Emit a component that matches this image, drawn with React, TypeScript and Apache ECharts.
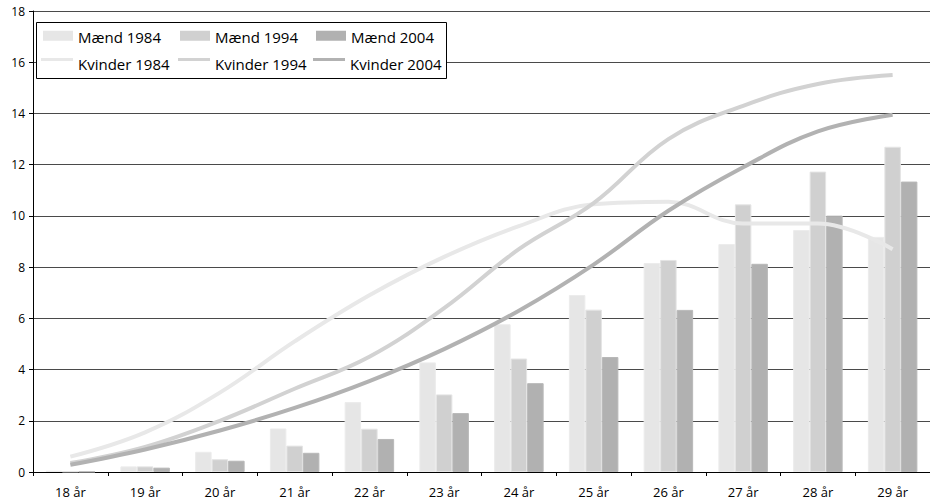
import React, { useEffect, useRef } from "react";
import * as echarts from "echarts";

const categories = ["18 år", "19 år", "20 år", "21 år", "22 år", "23 år", "24 år", "25 år", "26 år", "27 år", "28 år", "29 år"];
const yTicks = [0, 2, 4, 6, 8, 10, 12, 14, 16, 18];

const maend1984 = [0.05, 0.22, 0.79, 1.7, 2.73, 4.28, 5.77, 6.91, 8.16, 8.9, 9.45, 9.18];
const maend1994 = [0.02, 0.22, 0.5, 1.03, 1.69, 3.03, 4.43, 6.34, 8.28, 10.45, 11.73, 12.7];
const maend2004 = [0.01, 0.17, 0.44, 0.75, 1.29, 2.3, 3.47, 4.49, 6.33, 8.13, 10.01, 11.34];

const kvinder1984 = [0.6, 1.55, 3.1, 5.1, 6.9, 8.4, 9.6, 10.45, 10.55, 9.7, 9.7, 8.7];
const kvinder1994 = [0.35, 0.98, 2.0, 3.25, 4.5, 6.4, 8.7, 10.5, 13.0, 14.3, 15.15, 15.5];
const kvinder2004 = [0.28, 0.88, 1.62, 2.5, 3.55, 4.8, 6.3, 8.1, 10.2, 11.9, 13.3, 13.95];

const FONT = "Open Sans";

export default function App() {
  const ref = useRef<HTMLDivElement>(null);

  useEffect(() => {
    if (!ref.current) return;
    const chart = echarts.init(ref.current, undefined, { renderer: "svg" });

    const barSeries = (name: string, data: number[], color: string, border: string) => ({
      name,
      type: "bar",
      data,
      barWidth: 16.5,
      barGap: "0%",
      itemStyle: { color, borderColor: border, borderWidth: 1 },
      z: 2,
    });
    const lineSeries = (name: string, data: number[], color: string) => ({
      name,
      type: "line",
      data,
      smooth: 0.4,
      symbol: "none",
      lineStyle: { color, width: 4 },
      itemStyle: { color },
      z: 3,
    });

    const barLegend = (name: string, left: number) => ({
      show: true,
      data: [name],
      left,
      top: 28.2,
      padding: 0,
      icon: "path://M0,0H30V10H0ZM0,13H30",
      itemWidth: 30,
      itemHeight: 13,
      selectedMode: false,
      itemStyle: { borderWidth: 0 },
      textStyle: { fontFamily: FONT, fontSize: 15, color: "#000", lineHeight: 18 },
      z: 5,
    });
    const lineLegend = (name: string, left: number) => ({
      show: true,
      data: [name],
      left,
      top: 54.5,
      padding: 0,
      icon: "path://M0,0H32V3H0ZM0,11H32",
      itemWidth: 32,
      itemHeight: 11,
      selectedMode: false,
      itemStyle: { borderWidth: 0 },
      lineStyle: { width: 0 },
      textStyle: { fontFamily: FONT, fontSize: 15, color: "#000", lineHeight: 18 },
      z: 5,
    });

    chart.setOption({
      animation: false,
      backgroundColor: "#fff",
      grid: { left: 33, top: 11, width: 902, height: 461, containLabel: false },
      legend: [
        barLegend("Mænd 1984", 43),
        barLegend("Mænd 1994", 180),
        barLegend("Mænd 2004", 316),
        lineLegend("Kvinder 1984", 41),
        lineLegend("Kvinder 1994", 178),
        lineLegend("Kvinder 2004", 313),
      ],
      graphic: [
        {
          type: "rect",
          shape: { x: 36.5, y: 22.5, width: 410, height: 56 },
          style: { fill: "#fff", stroke: "#000", lineWidth: 1 },
          z: 4,
        },
      ],
      xAxis: {
        type: "category",
        data: categories,
        boundaryGap: true,
        axisLine: { show: true, lineStyle: { color: "#000", width: 1 } },
        axisTick: { show: true, length: 4, alignWithLabel: false, lineStyle: { color: "#000" } },
        axisLabel: { fontFamily: FONT, fontSize: 13, color: "#000", margin: 13 },
        splitLine: { show: false },
      },
      yAxis: {
        type: "value",
        min: yTicks[0],
        max: yTicks[yTicks.length - 1],
        interval: 2,
        axisLine: { show: true, lineStyle: { color: "#000", width: 1 } },
        axisTick: { show: true, length: 4, lineStyle: { color: "#000" } },
        axisLabel: { fontFamily: FONT, fontSize: 12, color: "#000", margin: 8 },
        splitLine: { show: true, lineStyle: { color: "#4a4a4a", width: 1 } },
      },
      series: [
        barSeries("Mænd 1984", maend1984, "#e6e6e6", "#ececec"),
        barSeries("Mænd 1994", maend1994, "#d0d0d0", "#e4e4e4"),
        barSeries("Mænd 2004", maend2004, "#b1b1b1", "#b8b8b8"),
        lineSeries("Kvinder 1984", kvinder1984, "#e8e8e8"),
        lineSeries("Kvinder 1994", kvinder1994, "#d2d2d2"),
        lineSeries("Kvinder 2004", kvinder2004, "#b2b2b2"),
      ],
    });

    return () => chart.dispose();
  }, []);

  return (
    <div
      ref={ref}
      style={{ position: "absolute", left: 0, top: 0, width: 930, height: 501, background: "#fff" }}
    />
  );
}
